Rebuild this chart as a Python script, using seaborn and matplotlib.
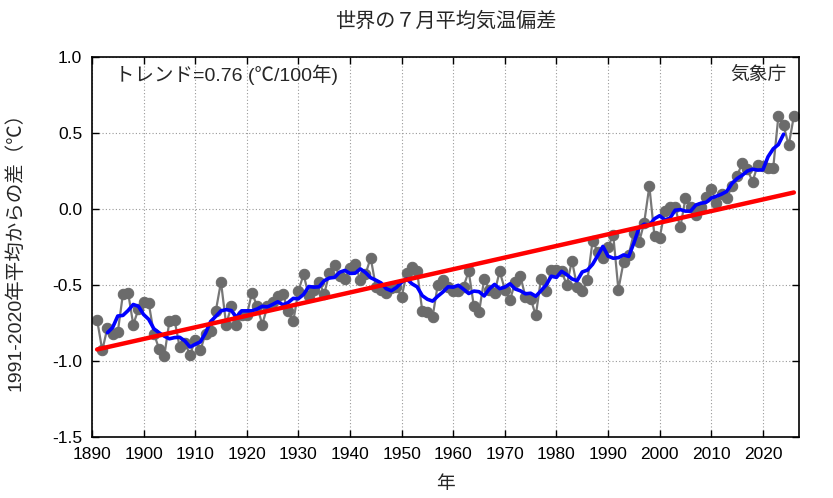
import numpy as np
import pandas as pd
import matplotlib
matplotlib.use("Agg")
import matplotlib.pyplot as plt
import seaborn as sns

# July global mean temperature anomaly (deg C, vs 1991-2020)
years = list(range(1891, 2027))
anomaly = [
    -0.73, -0.93, -0.78, -0.82, -0.81, -0.56, -0.55, -0.76, -0.66,  # 1891-1899
    -0.61, -0.62, -0.82, -0.92, -0.97, -0.74, -0.73, -0.91, -0.88, -0.96,  # 1900s
    -0.86, -0.93, -0.82, -0.80, -0.67, -0.48, -0.76, -0.64, -0.76, -0.70,  # 1910s
    -0.70, -0.55, -0.64, -0.76, -0.64, -0.61, -0.57, -0.56, -0.67, -0.74,  # 1920s
    -0.54, -0.43, -0.57, -0.53, -0.48, -0.56, -0.42, -0.37, -0.44, -0.46,  # 1930s
    -0.39, -0.36, -0.47, -0.43, -0.32, -0.51, -0.53, -0.55, -0.52, -0.51,  # 1940s
    -0.58, -0.42, -0.38, -0.41, -0.67, -0.68, -0.71, -0.50, -0.47, -0.51,  # 1950s
    -0.54, -0.54, -0.51, -0.41, -0.64, -0.68, -0.46, -0.53, -0.55, -0.41,  # 1960s
    -0.53, -0.60, -0.48, -0.44, -0.58, -0.59, -0.70, -0.46, -0.54, -0.40,  # 1970s
    -0.40, -0.41, -0.50, -0.34, -0.51, -0.54, -0.47, -0.21, -0.28, -0.32,  # 1980s
    -0.25, -0.17, -0.53, -0.35, -0.30, -0.16, -0.22, -0.09, 0.15, -0.18,  # 1990s
    -0.19, -0.01, 0.01, 0.01, -0.12, 0.07, 0.01, -0.04, 0.01, 0.08,  # 2000s
    0.13, 0.04, 0.10, 0.07, 0.15, 0.22, 0.30, 0.26, 0.18, 0.29,  # 2010s
    0.28, 0.27, 0.27, 0.61, 0.55, 0.42, 0.61,  # 2020-2026
]

x_ticks = list(range(1890, 2021, 10))
y_ticks = [-1.5, -1.0, -0.5, 0.0, 0.5, 1.0]

df = pd.DataFrame({"year": years, "anomaly": anomaly})
# 5-year running mean and linear trend
df["running5"] = df["anomaly"].rolling(5, center=True).mean()
coef = np.polyfit(df["year"], df["anomaly"], 1)
df["trend"] = np.polyval(coef, df["year"])

sns.set_style("ticks")
plt.rcParams["font.family"] = ["Liberation Sans", "Noto Sans CJK JP", "DejaVu Sans"]

fig = plt.figure(figsize=(8.33, 4.98), dpi=100)
ax = fig.add_axes([0.1104, 0.1225, 0.8488, 0.763])

sns.lineplot(data=df, x="year", y="anomaly", ax=ax, color="#777777", linewidth=1.6,
             marker="o", markersize=7.5, markerfacecolor="#6b6b6b",
             markeredgecolor="#6b6b6b", zorder=2)
sns.lineplot(data=df, x="year", y="running5", ax=ax, color="#0000ff", linewidth=2.6, zorder=3)
sns.lineplot(data=df, x="year", y="trend", ax=ax, color="#ff0000", linewidth=3.2, zorder=4)

ax.set_xlim(1890, 2027)
ax.set_ylim(-1.5, 1.0)
ax.set_xticks(x_ticks)
ax.set_yticks(y_ticks)
ax.set_yticklabels([f"{v:.1f}" for v in y_ticks])
ax.grid(True, linestyle=(0, (1, 2)), color="#999999", linewidth=0.8)
ax.tick_params(direction="in", length=5, width=1, labelsize=12.5, colors="black",
               top=True, right=True, pad=7)
for s in ax.spines.values():
    s.set_visible(True)
    s.set_linewidth(1.2)
    s.set_color("black")

ax.set_xlabel("年", fontsize=13.5, labelpad=10)
ax.set_ylabel("1991-2020年平均からの差（℃）", fontsize=14, labelpad=20)
ax.set_title("世界の７月平均気温偏差", fontsize=14.5, pad=22)
ax.text(0.033, 0.952, f"トレンド={coef[0]*100:.2f} (℃/100年)", transform=ax.transAxes,
        fontsize=14, ha="left", va="center")
ax.text(0.982, 0.952, "気象庁", transform=ax.transAxes, fontsize=13.5, ha="right", va="center")

fig.savefig("out.png", dpi=100)
